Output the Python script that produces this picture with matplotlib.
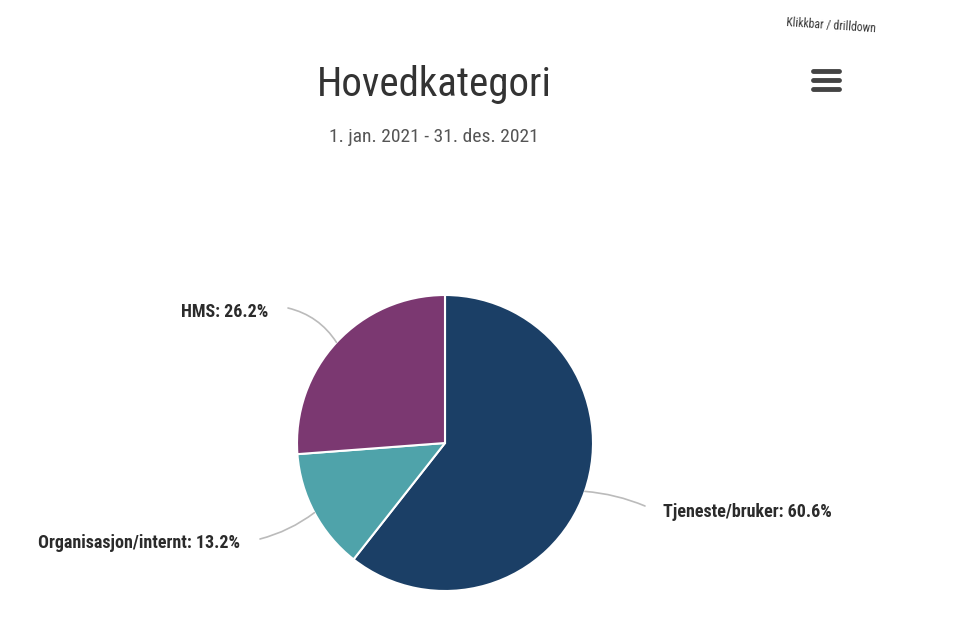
import matplotlib
matplotlib.use("Agg")
import matplotlib.pyplot as plt
from matplotlib import font_manager as fm
import numpy as np

categories = ["Tjeneste/bruker", "Organisasjon/internt", "HMS"]
values = [60.6, 13.2, 26.2]
colors = ["#1b3f66", "#4fa3aa", "#7b3871"]
title = "Hovedkategori"
subtitle = "1. jan. 2021 - 31. des. 2021"
note = "Klikkbar / drilldown"

names = {f.name for f in fm.fontManager.ttflist}
cond = "Roboto Condensed" if "Roboto Condensed" in names else ("Liberation Sans Narrow" if "Liberation Sans Narrow" in names else "Roboto")
plt.rcParams['font.family'] = [cond, 'DejaVu Sans']

W, H = 960, 624
fig = plt.figure(figsize=(W / 100, H / 100), dpi=100)
ax = fig.add_axes([0, 0, 1, 1])

def Y(py):
    return H - py

cx, cy, r = 445, Y(443), 148
wedges, _ = ax.pie(values, colors=colors, startangle=90, counterclock=False,
                   center=(cx, cy), radius=r, frame=True,
                   wedgeprops=dict(edgecolor="white", linewidth=1.5))
ax.set_xlim(0, W)
ax.set_ylim(0, H)
ax.set_aspect('equal')
ax.axis('off')

# labels and connectors
label_pos = [(663, 512, 'left', -0.08), (240, 543, 'right', -0.1), (268, 312, 'right', 0.2)]
for w, cat, val, (lx, ly, ha, rad) in zip(wedges, categories, values, label_pos):
    ang = np.deg2rad((w.theta1 + w.theta2) / 2)
    ex = cx + r * np.cos(ang)
    ey = cy + r * np.sin(ang)
    ax.text(lx, Y(ly), f"{cat}: {val}%", ha=ha, va='center', fontsize=13,
            fontweight='bold', color="#2b2b2b")
    if ha == 'left':
        tx, ty = lx - 18, Y(ly - 6)
    else:
        tx, ty = lx + 20, Y(ly - 4)
    ax.annotate("", xy=(tx, ty), xytext=(ex, ey),
                arrowprops=dict(arrowstyle='-', color="#bbbbbb", lw=1.2,
                                connectionstyle=f"arc3,rad={rad}",
                                shrinkA=0, shrinkB=0))

fig.text(434 / W, 1 - 85 / H, title, ha='center', va='center', fontsize=29.5, color="#333333")
fig.text(434 / W, 1 - 137 / H, subtitle, ha='center', va='center', fontsize=14, color="#555555")
fig.text(831 / W, 1 - 26 / H, note, ha='center', va='center', fontsize=8.5, color="#333333", rotation=-4)

# hamburger menu icon
for py in (71, 80, 89):
    ax.plot([813, 839], [Y(py), Y(py)], color="#444444", lw=3.5, solid_capstyle='round')

fig.savefig("out.png", dpi=100, facecolor="white")
